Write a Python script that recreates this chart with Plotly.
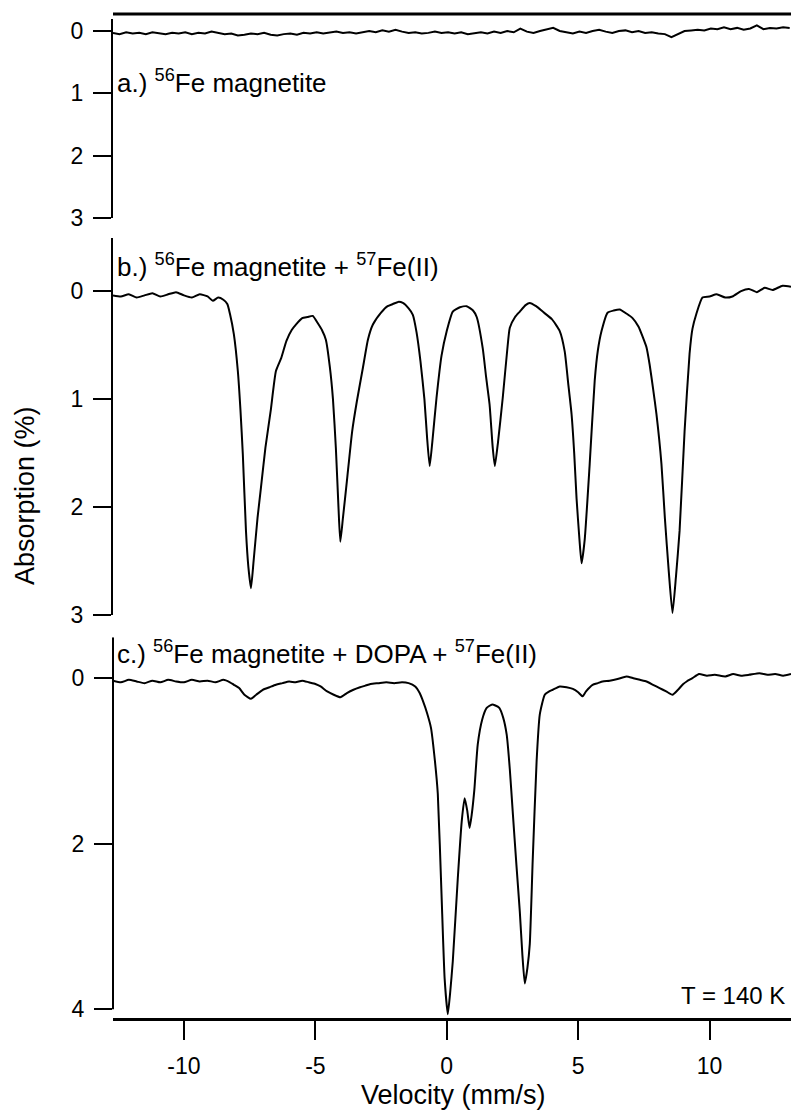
import plotly.graph_objects as go

# ---------------- data ----------------
A_velocity = [-12.7, -12.45, -12.2, -11.95, -11.7, -11.45, -11.2, -10.95, -10.7, -10.45,
              -10.2, -9.95, -9.7, -9.45, -9.2, -8.95, -8.7, -8.45, -8.2, -7.95,
              -7.7, -7.45, -7.2, -6.95, -6.7, -6.45, -6.2, -5.95, -5.7, -5.45,
              -5.2, -4.95, -4.7, -4.45, -4.2, -3.95, -3.7, -3.45, -3.2, -2.95,
              -2.7, -2.45, -2.2, -1.95, -1.7, -1.45, -1.2, -0.95, -0.7, -0.45,
              -0.2, 0.05, 0.3, 0.55, 0.8, 1.05, 1.3, 1.55, 1.8, 2.05,
              2.3, 2.55, 2.8, 3.05, 3.3, 3.55, 3.8, 4.05, 4.3, 4.55,
              4.8, 5.05, 5.3, 5.55, 5.8, 6.05, 6.3, 6.55, 6.8, 7.05,
              7.3, 7.55, 7.8, 8.05, 8.3, 8.55, 8.8, 9.05, 9.3, 9.55,
              9.8, 10.05, 10.3, 10.55, 10.8, 11.05, 11.3, 11.55, 11.8, 12.05,
              12.3, 12.55, 12.8, 13.05]
A_absorption = [0.03, 0.05, 0.02, 0.04, 0.03, 0.05, 0.02, 0.04, 0.05, 0.03,
                0.04, 0.02, 0.05, 0.03, 0.04, 0.01, 0.03, 0.05, 0.04, 0.07,
                0.06, 0.04, 0.05, 0.03, 0.06, 0.07, 0.05, 0.04, 0.06, 0.03,
                0.04, 0.02, 0.04, 0.03, 0.01, 0.03, 0.02, 0.04, 0.02, 0.00,
                0.02, -0.01, 0.01, -0.02, 0.01, 0.03, 0.02, 0.04, 0.03, 0.01,
                0.03, 0.02, 0.04, 0.02, 0.05, 0.03, 0.02, 0.04, 0.01, 0.03,
                0.00, 0.02, -0.04, 0.01, 0.03, 0.00, -0.02, -0.05, 0.00, 0.02,
                0.04, 0.01, 0.03, 0.00, -0.02, 0.01, 0.03, 0.00, -0.01, 0.02,
                0.00, 0.03, 0.02, 0.04, 0.05, 0.10, 0.05, 0.00, -0.01, -0.02,
                -0.01, -0.04, -0.03, -0.06, -0.03, -0.05, -0.02, -0.04, -0.09, -0.03,
                -0.05, -0.04, -0.06, -0.05]

B_velocity = [-12.7, -12.4, -12.1, -11.8, -11.5, -11.2, -10.9, -10.6, -10.3, -10.0,
              -9.7, -9.4, -9.1, -8.9, -8.7, -8.5, -8.35, -8.25, -8.1, -7.95,
              -7.85, -7.76, -7.64, -7.55, -7.45, -7.35, -7.2, -7.07, -6.9, -6.7,
              -6.5, -6.3, -6.1, -5.9, -5.74, -5.5, -5.3, -5.1, -4.9, -4.75,
              -4.6, -4.45, -4.33, -4.22, -4.12, -4.05, -3.95, -3.8, -3.6, -3.42,
              -3.19, -3.0, -2.81, -2.5, -2.25, -2.05, -1.85, -1.67, -1.45, -1.29,
              -1.15, -1.0, -0.85, -0.75, -0.65, -0.55, -0.39, -0.2, 0.0, 0.23,
              0.5, 0.76, 1.0, 1.14, 1.37, 1.5, 1.63, 1.75, 1.83, 1.95,
              2.13, 2.3, 2.4, 2.6, 2.78, 3.0, 3.16, 3.4, 3.65, 4.0,
              4.3, 4.49, 4.62, 4.75, 4.85, 4.94, 5.05, 5.13, 5.25, 5.44,
              5.63, 5.75, 5.89, 6.12, 6.35, 6.58, 6.85, 7.07, 7.3, 7.45,
              7.6, 7.72, 7.85, 7.98, 8.17, 8.3, 8.45, 8.59, 8.72, 8.86,
              9.05, 9.24, 9.35, 9.5, 9.73, 10.0, 10.27, 10.6, 10.87, 11.2,
              11.5, 11.8, 12.1, 12.4, 12.78, 13.1]
B_absorption = [0.04, 0.05, 0.03, 0.06, 0.04, 0.02, 0.05, 0.03, 0.01, 0.04,
                0.06, 0.03, 0.05, 0.09, 0.06, 0.08, 0.12, 0.21, 0.40, 0.74,
                1.10, 1.51, 2.22, 2.55, 2.75, 2.50, 2.10, 1.82, 1.45, 1.11,
                0.74, 0.62, 0.46, 0.36, 0.31, 0.25, 0.24, 0.23, 0.30, 0.36,
                0.45, 0.70, 1.00, 1.45, 2.00, 2.32, 2.10, 1.76, 1.30, 1.02,
                0.71, 0.45, 0.31, 0.20, 0.14, 0.12, 0.10, 0.11, 0.16, 0.22,
                0.38, 0.65, 1.00, 1.35, 1.62, 1.40, 0.99, 0.60, 0.37, 0.19,
                0.15, 0.14, 0.18, 0.24, 0.53, 0.80, 1.05, 1.45, 1.62, 1.40,
                0.99, 0.55, 0.34, 0.24, 0.19, 0.13, 0.11, 0.14, 0.19, 0.26,
                0.37, 0.56, 0.85, 1.14, 1.50, 1.92, 2.30, 2.52, 2.30, 1.60,
                0.83, 0.55, 0.37, 0.20, 0.18, 0.17, 0.21, 0.25, 0.33, 0.42,
                0.52, 0.68, 0.90, 1.14, 1.60, 2.10, 2.60, 2.98, 2.65, 2.22,
                1.30, 0.58, 0.35, 0.21, 0.06, 0.05, 0.03, 0.06, 0.05, 0.00,
                -0.02, 0.01, -0.03, -0.01, -0.05, -0.04]

C_velocity = [-12.7, -12.4, -12.1, -11.8, -11.5, -11.2, -10.9, -10.6, -10.3, -10.0,
              -9.7, -9.4, -9.1, -8.8, -8.5, -8.25, -8.1, -7.9, -7.7, -7.45,
              -7.25, -7.0, -6.75, -6.5, -6.25, -6.0, -5.75, -5.5, -5.25, -5.0,
              -4.8, -4.55, -4.3, -4.05, -3.8, -3.55, -3.3, -3.1, -2.9, -2.6,
              -2.3, -2.0, -1.7, -1.45, -1.2, -1.03, -0.9, -0.75, -0.6, -0.45,
              -0.34, -0.2, -0.08, 0.04, 0.13, 0.23, 0.42, 0.57, 0.68, 0.78,
              0.87, 0.95, 1.05, 1.18, 1.35, 1.52, 1.71, 1.85, 2.0, 2.15,
              2.28, 2.4, 2.51, 2.65, 2.78, 2.88, 2.97, 3.07, 3.16, 3.27,
              3.42, 3.54, 3.73, 3.9, 4.03, 4.3, 4.56, 4.8, 5.0, 5.17,
              5.3, 5.55, 5.75, 5.93, 6.2, 6.5, 6.84, 7.1, 7.35, 7.6,
              7.85, 8.1, 8.35, 8.59, 8.8, 9.0, 9.13, 9.35, 9.6, 9.9,
              10.2, 10.6, 10.9, 11.2, 11.5, 11.9, 12.2, 12.5, 12.8, 13.1]
C_absorption = [0.03, 0.05, 0.02, 0.04, 0.06, 0.03, 0.05, 0.02, 0.04, 0.05,
                0.02, 0.04, 0.03, 0.05, 0.02, 0.05, 0.08, 0.12, 0.20, 0.25,
                0.20, 0.14, 0.11, 0.08, 0.06, 0.04, 0.05, 0.03, 0.05, 0.07,
                0.10, 0.16, 0.20, 0.23, 0.18, 0.14, 0.11, 0.09, 0.07, 0.06,
                0.05, 0.06, 0.05, 0.06, 0.10, 0.18, 0.28, 0.42, 0.60, 1.00,
                1.40, 2.60, 3.63, 4.06, 3.80, 3.42, 2.42, 1.73, 1.45, 1.60,
                1.81, 1.65, 1.35, 0.80, 0.50, 0.36, 0.32, 0.33, 0.36, 0.48,
                0.68, 1.10, 1.61, 2.25, 2.82, 3.35, 3.69, 3.50, 3.21, 2.21,
                1.00, 0.44, 0.20, 0.16, 0.14, 0.10, 0.11, 0.13, 0.17, 0.22,
                0.16, 0.08, 0.06, 0.04, 0.03, 0.01, -0.02, 0.00, 0.02, 0.04,
                0.08, 0.12, 0.16, 0.20, 0.14, 0.07, 0.04, 0.00, -0.05, -0.03,
                -0.04, -0.02, -0.05, -0.03, -0.04, -0.06, -0.04, -0.05, -0.03, -0.05]

panel_labels = ["a.) <sup>56</sup>Fe magnetite",
                "b.) <sup>56</sup>Fe magnetite + <sup>57</sup>Fe(II)",
                "c.) <sup>56</sup>Fe magnetite + DOPA + <sup>57</sup>Fe(II)"]
temperature_label = "T = 140 K"
x_ticks = [-10, -5, 0, 5, 10]
yA_ticks = [0, 1, 2, 3]
yB_ticks = [0, 1, 2, 3]
yC_ticks = [0, 2, 4]

# ---------------- figure ----------------
W, H = 791, 1112
L = 113
VS = 1.013  # vertical correction
FONT = "Liberation Sans, Arial, sans-serif"


def py(p):
    return 1 - p * VS / H


def px(p):
    return (p - L) / (W - L)


fig = go.Figure()
line = dict(color="black", width=2, shape="spline", smoothing=0.5)
fig.add_trace(go.Scatter(x=A_velocity, y=A_absorption, mode="lines",
                         line=dict(color="black", width=2),
                         xaxis="x", yaxis="y", showlegend=False))
fig.add_trace(go.Scatter(x=B_velocity, y=B_absorption, mode="lines", line=line,
                         xaxis="x", yaxis="y2", showlegend=False))
fig.add_trace(go.Scatter(x=C_velocity, y=C_absorption, mode="lines", line=line,
                         xaxis="x", yaxis="y3", showlegend=False))

tickfont = dict(family=FONT, size=23, color="black")
yax_common = dict(showgrid=False, zeroline=False, ticks="outside", ticklen=18,
                  tickwidth=2, tickcolor="black", linecolor="black", linewidth=2,
                  tickfont=tickfont, anchor="x", fixedrange=True,
                  ticklabelstandoff=5)

fig.update_layout(
    width=W, height=H,
    margin=dict(l=L, r=0, t=0, b=0),
    paper_bgcolor="white", plot_bgcolor="white",
    xaxis=dict(range=[-12.7, 13.1], domain=[0, 1], anchor="free",
               position=py(1018), showgrid=False, zeroline=False,
               showline=True, linecolor="black", linewidth=3,
               ticks="outside", ticklen=19, tickwidth=2, tickcolor="black",
               tickvals=x_ticks, ticktext=[str(v) for v in x_ticks],
               tickfont=tickfont, ticklabelstandoff=6),
    yaxis=dict(domain=[py(217), py(18)], range=[3, -12 / 62.33],
               tickvals=yA_ticks, showline=True, **yax_common),
    yaxis2=dict(domain=[py(614), py(237)], range=[3, -53 / 108.0],
                tickvals=yB_ticks, showline=True, **yax_common),
    yaxis3=dict(domain=[py(1017), py(636)], range=[340 / 82.75, -41 / 82.75],
                tickvals=yC_ticks, showline=False, **yax_common),
)

# top frame line of panel a and left spine of panel c
fig.add_shape(type="line", xref="paper", yref="paper", x0=0, x1=1,
              y0=py(13), y1=py(13), line=dict(color="black", width=3))
fig.add_shape(type="line", xref="paper", yref="y3", x0=0, x1=0,
              y0=-41 / 82.75, y1=4, line=dict(color="black", width=2))

labfont = dict(family=FONT, size=26, color="black")
for lab, ycen in zip(panel_labels, [80, 264, 651]):
    fig.add_annotation(text=lab, xref="paper", yref="paper", x=px(115), y=py(ycen),
                       xanchor="left", yanchor="middle", showarrow=False, font=labfont)
fig.add_annotation(text=temperature_label, xref="paper", yref="paper", x=px(787),
                   y=py(994), xanchor="right", yanchor="middle", showarrow=False,
                   font=dict(family=FONT, size=24, color="black"))
fig.add_annotation(text="Absorption (%)", xref="paper", yref="paper", x=px(25),
                   y=py(495), xanchor="center", yanchor="middle", textangle=-90,
                   showarrow=False, font=dict(family=FONT, size=27, color="black"))
fig.add_annotation(text="Velocity (mm/s)", xref="paper", yref="paper", x=px(453),
                   y=py(1094), xanchor="center", yanchor="middle", showarrow=False,
                   font=dict(family=FONT, size=27, color="black"))

fig.write_html("out.html")
